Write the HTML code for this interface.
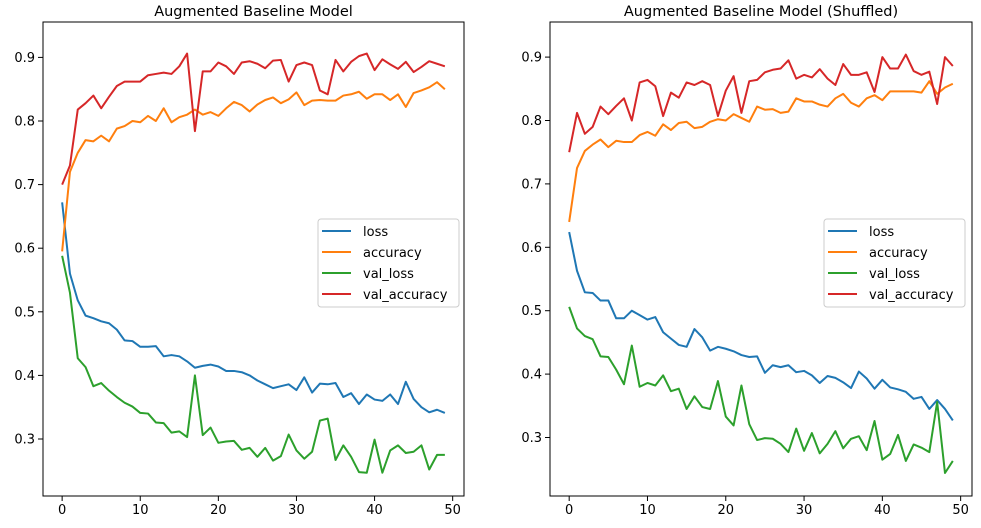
<!DOCTYPE html>
<html><head><meta charset="utf-8"><style>
html,body{margin:0;padding:0;background:#fff;}
svg{display:block;font-family:"DejaVu Sans","Liberation Sans",sans-serif;}
</style></head><body>
<svg id="chart" width="981" height="528" viewBox="0 0 981 528"></svg>
<script>
const epochs = Array.from({length:50},(_,i)=>i);
const seriesNames = ["loss","accuracy","val_loss","val_accuracy"];
const xTicks = [0,10,20,30,40,50];
const yTicksLeft = [0.3,0.4,0.5,0.6,0.7,0.8,0.9];
const yTicksRight = [0.3,0.4,0.5,0.6,0.7,0.8,0.9];
const leftLoss = [0.672,0.56,0.518,0.494,0.49,0.485,0.482,0.472,0.455,0.454,0.445,0.445,0.446,0.43,0.432,0.43,0.422,0.412,0.415,0.417,0.414,0.407,0.407,0.405,0.4,0.392,0.386,0.38,0.383,0.386,0.377,0.397,0.373,0.387,0.386,0.388,0.366,0.372,0.355,0.37,0.362,0.36,0.37,0.355,0.39,0.363,0.35,0.342,0.346,0.341];
const leftAcc = [0.595,0.72,0.75,0.77,0.768,0.777,0.768,0.788,0.792,0.80,0.798,0.808,0.8,0.82,0.798,0.806,0.81,0.818,0.81,0.814,0.808,0.82,0.83,0.825,0.815,0.826,0.833,0.837,0.828,0.834,0.845,0.825,0.832,0.833,0.832,0.832,0.84,0.842,0.846,0.835,0.842,0.842,0.833,0.842,0.822,0.844,0.848,0.853,0.861,0.85];
const leftValLoss = [0.588,0.53,0.427,0.413,0.383,0.388,0.376,0.366,0.357,0.351,0.341,0.34,0.326,0.325,0.31,0.312,0.303,0.4,0.306,0.318,0.294,0.296,0.297,0.283,0.286,0.272,0.286,0.266,0.273,0.307,0.282,0.269,0.28,0.329,0.332,0.267,0.29,0.272,0.248,0.247,0.299,0.247,0.282,0.29,0.278,0.28,0.29,0.252,0.275,0.275];
const leftValAcc = [0.70,0.73,0.818,0.828,0.84,0.82,0.838,0.855,0.862,0.862,0.862,0.872,0.874,0.876,0.874,0.886,0.906,0.784,0.878,0.878,0.892,0.886,0.874,0.892,0.894,0.89,0.883,0.895,0.896,0.862,0.888,0.892,0.888,0.848,0.842,0.896,0.878,0.893,0.902,0.906,0.88,0.897,0.889,0.882,0.893,0.877,0.885,0.894,0.89,0.886];
const rightLoss = [0.624,0.563,0.529,0.528,0.516,0.516,0.488,0.488,0.50,0.493,0.486,0.49,0.466,0.456,0.446,0.443,0.471,0.458,0.437,0.443,0.44,0.436,0.43,0.427,0.428,0.402,0.414,0.411,0.414,0.403,0.405,0.398,0.386,0.397,0.394,0.387,0.378,0.404,0.393,0.377,0.391,0.379,0.376,0.372,0.361,0.364,0.345,0.359,0.345,0.327];
const rightAcc = [0.64,0.725,0.752,0.762,0.77,0.758,0.768,0.766,0.766,0.777,0.782,0.776,0.794,0.785,0.796,0.798,0.788,0.79,0.798,0.802,0.8,0.81,0.804,0.798,0.822,0.817,0.818,0.812,0.814,0.835,0.83,0.83,0.825,0.822,0.835,0.842,0.828,0.822,0.835,0.84,0.832,0.846,0.846,0.846,0.846,0.844,0.862,0.842,0.852,0.858];
const rightValLoss = [0.506,0.472,0.46,0.455,0.428,0.427,0.407,0.384,0.445,0.38,0.386,0.382,0.398,0.373,0.377,0.345,0.365,0.348,0.345,0.389,0.333,0.319,0.382,0.321,0.296,0.299,0.298,0.29,0.277,0.314,0.279,0.307,0.275,0.29,0.31,0.283,0.298,0.302,0.28,0.326,0.265,0.274,0.304,0.263,0.289,0.284,0.277,0.356,0.244,0.263];
const rightValAcc = [0.75,0.812,0.779,0.79,0.822,0.81,0.823,0.835,0.80,0.86,0.864,0.854,0.807,0.844,0.836,0.86,0.856,0.862,0.856,0.807,0.847,0.87,0.812,0.862,0.864,0.876,0.88,0.882,0.895,0.866,0.872,0.868,0.881,0.866,0.856,0.889,0.872,0.872,0.876,0.845,0.9,0.882,0.882,0.904,0.878,0.872,0.877,0.826,0.9,0.886];

const colors = ["#1f77b4","#ff7f0e","#2ca02c","#d62728"];
const NS="http://www.w3.org/2000/svg";
const svg=document.getElementById('chart');
function mk(tag,attrs,parent){const e=document.createElementNS(NS,tag);for(const k in attrs)e.setAttribute(k,attrs[k]);(parent||svg).appendChild(e);return e;}

function panel(cfg){
  const g=mk('g',{});
  
  
  const L=cfg.left,R=cfg.right,T=22,B=496;
  const xs=v=>L+(v+2.45)*(R-L)/53.9;
  const ys=v=>cfg.y03+(0.3-v)*cfg.pxPer01*10;
  mk('rect',{x:L,y:T,width:R-L,height:B-T,fill:'#fff'},g);
  seriesNames.forEach((nm,si)=>{
    const d=cfg.data[si].map((v,i)=>(i?'L':'M')+xs(epochs[i]).toFixed(2)+' '+ys(v).toFixed(2)).join(' ');
    const p=mk('path',{d:d,fill:'none',stroke:colors[si],'stroke-width':2,'stroke-linejoin':'round'},g);
    
    
  });
  const fr=mk('rect',{x:L,y:T,width:R-L,height:B-T,fill:'none',stroke:'#000','stroke-width':1},g);
  
  
  xTicks.forEach(t=>{
    const x=xs(t);
    mk('line',{x1:x,x2:x,y1:B,y2:B+5,stroke:'#000','stroke-width':1},g);
    const tx=mk('text',{x:x,y:B+18,'text-anchor':'middle','font-size':13,fill:'#000'},g);
    tx.textContent=t;
    
    
  });
  cfg.yTicks.forEach(t=>{
    const y=ys(t);
    mk('line',{x1:L-5,x2:L,y1:y,y2:y,stroke:'#000','stroke-width':1},g);
    const tx=mk('text',{x:L-8,y:y+4.5,'text-anchor':'end','font-size':13,fill:'#000'},g);
    tx.textContent=t.toFixed(1);
    
    
  });
  const ti=mk('text',{x:(L+R)/2,y:T-6,'text-anchor':'middle','font-size':14.5,fill:'#000'},g);
  ti.textContent=cfg.title;
  
  
  const lg=mk('g',{},g);
  
  
  mk('rect',{x:cfg.legX,y:219,width:141,height:88,rx:3,fill:'#fff','fill-opacity':0.8,stroke:'#ccc','stroke-width':1},lg);
  seriesNames.forEach((nm,si)=>{
    const y=231+si*21;
    mk('line',{x1:cfg.legX+4,x2:cfg.legX+33,y1:y,y2:y,stroke:colors[si],'stroke-width':2},lg);
    const tx=mk('text',{x:cfg.legX+45,y:y+5,'font-size':13,fill:'#000'},lg);
    tx.textContent=nm;
    
    
  });
}
panel({name:'left-panel',prefix:'left',title:'Augmented Baseline Model',left:43,right:464,y03:439,pxPer01:63.6,yTicks:yTicksLeft,legX:318,data:[leftLoss,leftAcc,leftValLoss,leftValAcc]});
panel({name:'right-panel',prefix:'right',title:'Augmented Baseline Model (Shuffled)',left:550,right:972,y03:437.5,pxPer01:63.4,yTicks:yTicksRight,legX:824,data:[rightLoss,rightAcc,rightValLoss,rightValAcc]});
</script>
</body></html>
